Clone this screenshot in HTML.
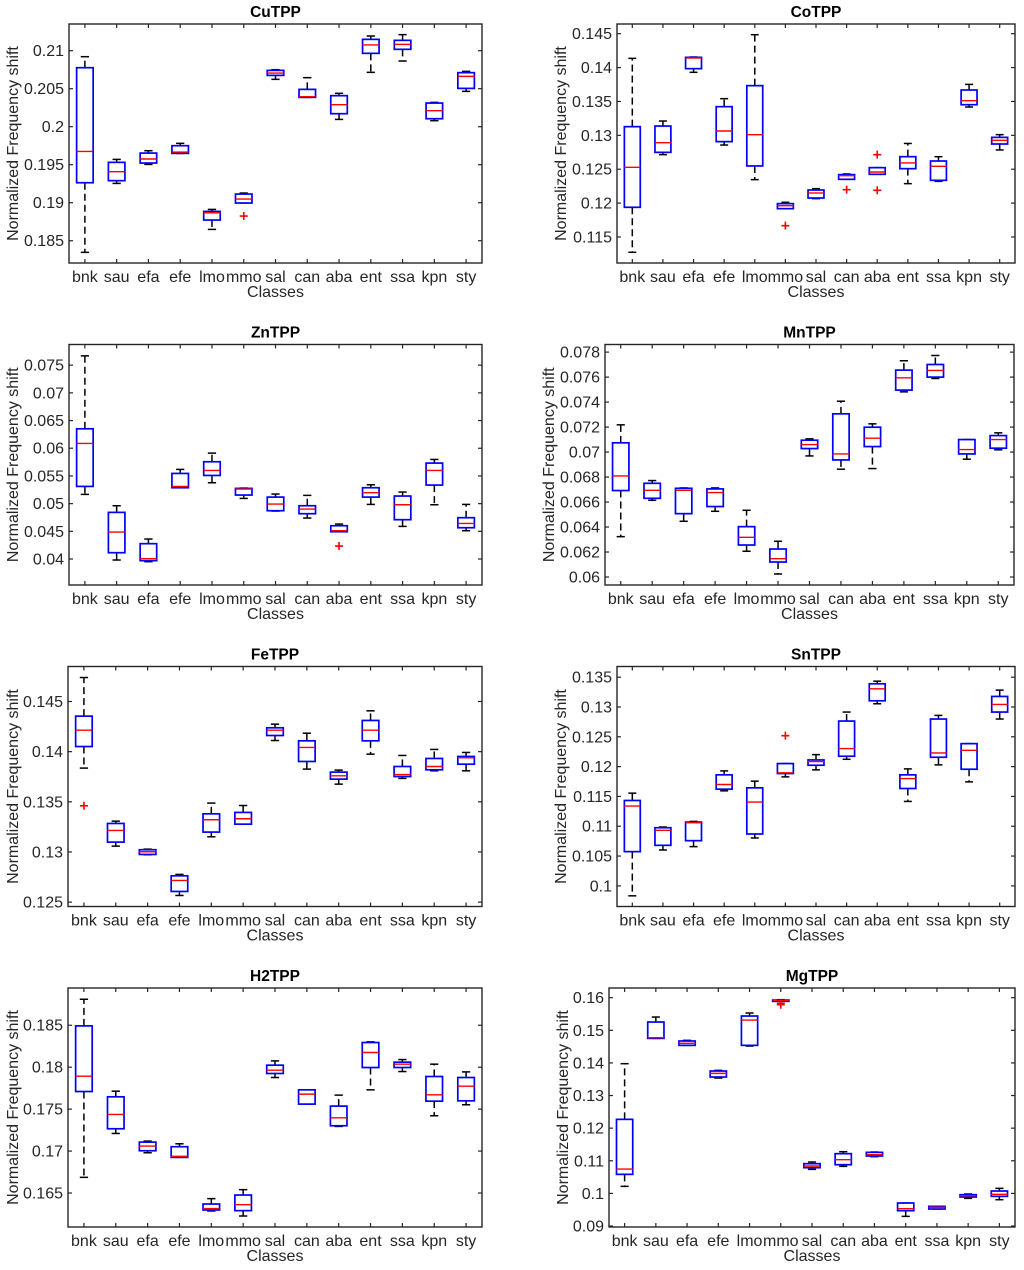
<!DOCTYPE html>
<html><head><meta charset="utf-8"><style>
html,body{margin:0;padding:0;background:#fff}
svg{display:block;font-family:"Liberation Sans",Arial,sans-serif}
</style></head><body>
<svg id="fig" width="1024" height="1270" viewBox="0 0 1024 1270"></svg>
<script>
const categories=["bnk","sau","efa","efe","lmo","mmo","sal","can","aba","ent","ssa","kpn","sty"];

const cuLo=[0.18347,0.19254,0.19504,0.19649,0.18649,0.18996,0.20623,0.20386,0.20096,0.20715,0.20864,0.20079,0.20465];
const cuQ1=[0.19263,0.1929,0.19522,0.19649,0.18772,0.18996,0.20675,0.20386,0.20171,0.20965,0.21018,0.20105,0.20504];
const cuMed=[0.19675,0.19408,0.19575,0.19667,0.18868,0.19048,0.20706,0.20395,0.2029,0.21075,0.21083,0.2021,0.20662];
const cuQ3=[0.20776,0.19531,0.19653,0.1975,0.18886,0.19114,0.20741,0.20491,0.20408,0.21149,0.21136,0.20311,0.20711];
const cuHi=[0.20921,0.1957,0.19684,0.19781,0.18912,0.19127,0.2075,0.20645,0.20439,0.21193,0.21211,0.2032,0.20728];
const cuOut=[[],[],[],[],[],[0.18825],[],[],[],[],[],[],[]];
const cuTicks=[0.185,0.19,0.195,0.2,0.205,0.21];

const coLo=[0.11274,0.12715,0.1393,0.12857,0.12346,0.11918,0.12066,0.12351,0.12425,0.12287,0.12321,0.13418,0.12784];
const coQ1=[0.11938,0.12749,0.13984,0.12907,0.12548,0.11918,0.12075,0.12351,0.12425,0.12508,0.12336,0.13452,0.12872];
const coMed=[0.12528,0.12892,0.14141,0.13064,0.1301,0.11962,0.12149,0.12405,0.12459,0.12592,0.12543,0.13511,0.12926];
const coQ3=[0.13128,0.13137,0.14151,0.13423,0.13733,0.11992,0.12193,0.1242,0.12523,0.12685,0.12621,0.13669,0.1297];
const coHi=[0.14136,0.13211,0.14156,0.13541,0.14485,0.12012,0.12213,0.1243,0.12523,0.1288,0.12685,0.13752,0.1301];
const coOut=[[],[],[],[],[],[0.11667],[],[0.12198],[0.12715,0.12189],[],[],[],[]];
const coTicks=[0.115,0.12,0.125,0.13,0.135,0.14,0.145];

const znLo=[0.05167,0.03982,0.03952,0.05287,0.05377,0.05094,0.04866,0.0474,0.04493,0.04986,0.04589,0.0498,0.04511];
const znQ1=[0.05311,0.04114,0.0397,0.05287,0.05509,0.05155,0.04872,0.04818,0.04493,0.05118,0.0471,0.05335,0.04565];
const znMed=[0.06087,0.04487,0.04006,0.05311,0.056,0.05263,0.04992,0.04902,0.04511,0.05197,0.0498,0.056,0.04643];
const znQ3=[0.06351,0.04842,0.04277,0.05545,0.05756,0.05275,0.05118,0.04962,0.04601,0.05287,0.05137,0.05732,0.04746];
const znHi=[0.07668,0.04962,0.04361,0.05618,0.05912,0.05281,0.05173,0.05149,0.04631,0.05341,0.05209,0.05798,0.04986];
const znOut=[[],[],[],[],[],[],[],[],[0.04234],[],[],[],[]];
const znTicks=[0.04,0.045,0.05,0.055,0.06,0.065,0.07,0.075];

const mnLo=[0.06323,0.06614,0.06446,0.06526,0.06206,0.06024,0.06969,0.06863,0.06868,0.07482,0.07589,0.06943,0.07018];
const mnQ1=[0.06692,0.0663,0.06507,0.06564,0.06256,0.0612,0.07028,0.06937,0.07044,0.07496,0.076,0.06985,0.07031];
const mnMed=[0.06809,0.06694,0.06694,0.06676,0.06318,0.06147,0.0706,0.06985,0.07111,0.07594,0.07653,0.0702,0.071];
const mnQ3=[0.07074,0.0675,0.0671,0.06705,0.06403,0.06224,0.07095,0.07306,0.07199,0.07656,0.07701,0.071,0.07132];
const mnHi=[0.07218,0.06772,0.06713,0.06713,0.06534,0.06286,0.07106,0.07407,0.07226,0.07731,0.07773,0.071,0.07154];
const mnOut=[[],[],[],[],[],[],[],[],[],[],[],[],[]];
const mnTicks=[0.06,0.062,0.064,0.066,0.068,0.07,0.072,0.074,0.076,0.078];

const feLo=[0.13836,0.13058,0.12972,0.12566,0.13151,0.13277,0.14111,0.13826,0.13676,0.13975,0.13733,0.13809,0.13809];
const feQ1=[0.14051,0.13098,0.12975,0.12606,0.13198,0.13277,0.14161,0.13902,0.13726,0.14108,0.13752,0.13819,0.13875];
const feMed=[0.14214,0.13214,0.13002,0.12716,0.13321,0.13331,0.14214,0.14042,0.13759,0.14214,0.13772,0.13852,0.13939];
const feQ3=[0.14354,0.13284,0.13022,0.12762,0.1338,0.13394,0.14238,0.14108,0.13796,0.14311,0.13852,0.13932,0.13952];
const feHi=[0.14739,0.13307,0.13028,0.12776,0.13487,0.13463,0.14274,0.14184,0.13816,0.14407,0.13962,0.14022,0.13992];
const feOut=[[0.1346],[],[],[],[],[],[],[],[],[],[],[],[]];
const feTicks=[0.125,0.13,0.135,0.14,0.145];

const snLo=[0.09833,0.10602,0.10658,0.11594,0.10803,0.11828,0.11945,0.12123,0.13054,0.11416,0.12029,0.11744,0.12798];
const snQ1=[0.10574,0.1068,0.10758,0.11622,0.1087,0.11884,0.12023,0.12174,0.13104,0.11633,0.12157,0.11956,0.12915];
const snMed=[0.11338,0.10931,0.11059,0.117,0.11405,0.11895,0.12085,0.12302,0.13305,0.118,0.12229,0.12274,0.13043];
const snQ3=[0.11432,0.10975,0.1107,0.11862,0.11644,0.12051,0.12112,0.12764,0.13389,0.11862,0.12798,0.12385,0.13177];
const snHi=[0.11555,0.10987,0.11081,0.11928,0.11756,0.12051,0.12201,0.12915,0.13433,0.11962,0.12859,0.12385,0.13283];
const snOut=[[],[],[],[],[],[0.12519],[],[],[],[],[],[],[]];
const snTicks=[0.1,0.105,0.11,0.115,0.12,0.125,0.13,0.135];

const h2Lo=[0.16687,0.1721,0.1698,0.16925,0.16286,0.16226,0.17877,0.1756,0.17294,0.1773,0.17948,0.17421,0.17552];
const h2Q1=[0.1771,0.17266,0.17004,0.16925,0.16298,0.1629,0.17925,0.1756,0.17302,0.17996,0.17996,0.17595,0.17599];
const h2Med=[0.17893,0.17437,0.1706,0.16937,0.16314,0.16361,0.17964,0.17679,0.17397,0.18175,0.18036,0.17671,0.17774];
const h2Q3=[0.18492,0.17647,0.17107,0.17052,0.16369,0.16476,0.18024,0.1773,0.17536,0.18294,0.1806,0.17889,0.17877];
const h2Hi=[0.1881,0.17714,0.17119,0.17087,0.16433,0.1654,0.18075,0.1773,0.17667,0.18302,0.18091,0.18036,0.17944];
const h2Out=[[],[],[],[],[],[],[],[],[],[],[],[],[]];
const h2Ticks=[0.165,0.17,0.175,0.18,0.185];

const mgLo=[0.10216,0.14753,0.14539,0.13537,0.14518,0.15888,0.10737,0.10829,0.11126,0.09296,0.09521,0.09848,0.09807];
const mgQ1=[0.10584,0.14753,0.14539,0.13568,0.14539,0.15888,0.10788,0.1088,0.11146,0.0947,0.09521,0.09889,0.0991];
const mgMed=[0.10747,0.14774,0.146,0.1368,0.15315,0.15918,0.1084,0.11034,0.11187,0.09531,0.09572,0.0993,0.09971];
const mgQ3=[0.1227,0.15254,0.14672,0.13752,0.15438,0.15928,0.10911,0.11218,0.11258,0.09705,0.09603,0.0996,0.10073];
const mgHi=[0.13977,0.15407,0.14692,0.13772,0.1553,0.15939,0.10962,0.11279,0.11269,0.09705,0.09603,0.09981,0.10155];
const mgOut=[[],[],[],[],[],[0.15826,0.15785],[],[],[],[],[],[],[]];
const mgTicks=[0.09,0.1,0.11,0.12,0.13,0.14,0.15,0.16];

const NS="http://www.w3.org/2000/svg";
const svg=document.getElementById('fig');
function mk(tag,attrs,parent){const e=document.createElementNS(NS,tag);for(const k in attrs)e.setAttribute(k,attrs[k]);(parent||svg).appendChild(e);return e;}

const panels=[
 {key:"cu",title:"CuTPP",x0:69,x1:482,y0:24,y1:263,ymin:0.18207,ymax:0.21351,ylx:14,lo:cuLo,q1:cuQ1,med:cuMed,q3:cuQ3,hi:cuHi,out:cuOut,ticks:cuTicks},
 {key:"co",title:"CoTPP",x0:617,x1:1015,y0:24,y1:263,ymin:0.11116,ymax:0.14643,ylx:562,lo:coLo,q1:coQ1,med:coMed,q3:coQ3,hi:coHi,out:coOut,ticks:coTicks},
 {key:"zn",title:"ZnTPP",x0:69,x1:482,y0:344.5,y1:585,ymin:0.03531,ymax:0.07873,ylx:14,lo:znLo,q1:znQ1,med:znMed,q3:znQ3,hi:znHi,out:znOut,ticks:znTicks},
 {key:"mn",title:"MnTPP",x0:605,x1:1014,y0:344.5,y1:585,ymin:0.05936,ymax:0.07861,ylx:550,lo:mnLo,q1:mnQ1,med:mnMed,q3:mnQ3,hi:mnHi,out:mnOut,ticks:mnTicks},
 {key:"fe",title:"FeTPP",x0:68,x1:482,y0:666.5,y1:906.5,ymin:0.12456,ymax:0.14849,ylx:14,lo:feLo,q1:feQ1,med:feMed,q3:feQ3,hi:feHi,out:feOut,ticks:feTicks},
 {key:"sn",title:"SnTPP",x0:617,x1:1015,y0:666.5,y1:906.5,ymin:0.09654,ymax:0.13679,ylx:562,lo:snLo,q1:snQ1,med:snMed,q3:snQ3,hi:snHi,out:snOut,ticks:snTicks},
 {key:"h2",title:"H2TPP",x0:68,x1:482,y0:988,y1:1227,ymin:0.16095,ymax:0.18944,ylx:14,lo:h2Lo,q1:h2Q1,med:h2Med,q3:h2Q3,hi:h2Hi,out:h2Out,ticks:h2Ticks},
 {key:"mg",title:"MgTPP",x0:609,x1:1015,y0:988,y1:1227,ymin:0.0897,ymax:0.16297,ylx:564,lo:mgLo,q1:mgQ1,med:mgMed,q3:mgQ3,hi:mgHi,out:mgOut,ticks:mgTicks}
];
const TXT="#262626";
panels.forEach(p=>{
  const g=mk('g',{});
  
  
  const band=(p.x1-p.x0)/categories.length;
  const X=i=>p.x0+(i+0.5)*band;
  const Y=v=>p.y1-(v-p.ymin)/(p.ymax-p.ymin)*(p.y1-p.y0);
  const t=mk('text',{x:(p.x0+p.x1)/2,y:p.y0-7,'text-anchor':'middle','font-size':15.5,'font-weight':'bold',fill:'#000'},g);
  t.textContent=p.title;
  
  
  p.ticks.forEach(v=>{
    const y=Y(v);
    mk('line',{x1:p.x0,x2:p.x0+4,y1:y,y2:y,stroke:TXT,'stroke-width':1.2},g);
    mk('line',{x1:p.x1,x2:p.x1-4,y1:y,y2:y,stroke:TXT,'stroke-width':1.2},g);
    const l=mk('text',{x:p.x0-5,y:y+5.5,'text-anchor':'end','font-size':16,fill:TXT},g);
    l.textContent=String(parseFloat(v.toFixed(4)));
    
    
  });
  categories.forEach((c,i)=>{
    const x=X(i);
    mk('line',{x1:x,x2:x,y1:p.y1,y2:p.y1-4,stroke:TXT,'stroke-width':1.2},g);
    mk('line',{x1:x,x2:x,y1:p.y0,y2:p.y0+4,stroke:TXT,'stroke-width':1.2},g);
    const l=mk('text',{x:x,y:p.y1+19,'text-anchor':'middle','font-size':16,fill:TXT},g);
    l.textContent=c;
    
    
  });
  const xl=mk('text',{x:(p.x0+p.x1)/2,y:p.y1+34,'text-anchor':'middle','font-size':16,fill:TXT},g);
  xl.textContent="Classes";
  
  
  const cy=(p.y0+p.y1)/2;
  const yl=mk('text',{x:p.ylx,y:cy,'text-anchor':'middle','font-size':16,fill:TXT,transform:`rotate(-90 ${p.ylx} ${cy})`,'dominant-baseline':'middle'},g);
  yl.textContent="Normalized Frequency shift";
  
  
  const hw=band*0.26, cw=band*0.13;
  categories.forEach((c,i)=>{
    const x=X(i);
    const bg=mk('g',{},g);
    
    
    mk('line',{x1:x,x2:x,y1:Y(p.q3[i]),y2:Y(p.hi[i]),stroke:'#000','stroke-width':1.5,'stroke-dasharray':'7,4'},bg);
    mk('line',{x1:x,x2:x,y1:Y(p.q1[i]),y2:Y(p.lo[i]),stroke:'#000','stroke-width':1.5,'stroke-dasharray':'7,4'},bg);
    mk('line',{x1:x-cw,x2:x+cw,y1:Y(p.hi[i]),y2:Y(p.hi[i]),stroke:'#000','stroke-width':1.5},bg);
    mk('line',{x1:x-cw,x2:x+cw,y1:Y(p.lo[i]),y2:Y(p.lo[i]),stroke:'#000','stroke-width':1.5},bg);
    const yt=Y(p.q3[i]),yb=Y(p.q1[i]);
    mk('rect',{x:x-hw,y:yt,width:2*hw,height:Math.max(yb-yt,0.5),fill:'#fff',stroke:'#0000ff','stroke-width':1.7},bg);
    mk('line',{x1:x-hw,x2:x+hw,y1:Y(p.med[i]),y2:Y(p.med[i]),stroke:'#ff0000','stroke-width':1.4},bg);
    p.out[i].forEach(v=>{
      const y=Y(v);
      const o=mk('path',{d:`M${x-4},${y}H${x+4}M${x},${y-4}V${y+4}`,stroke:'#ff0000','stroke-width':1.6,fill:'none'},bg);
      
      
    });
  });
  const fr=mk('rect',{x:p.x0,y:p.y0,width:p.x1-p.x0,height:p.y1-p.y0,fill:'none',stroke:TXT,'stroke-width':1.4},g);
  
  
});
</script>
</body></html>
